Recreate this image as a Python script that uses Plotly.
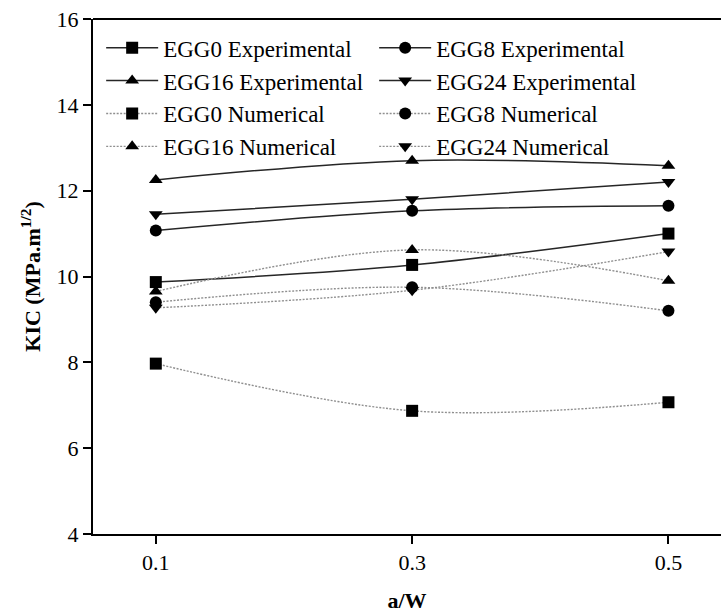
import plotly.graph_objects as go

# crack length ratio
a_w = [0.1, 0.3, 0.5]

# fracture toughness KIC (MPa.m^1/2)
egg0_exp = [9.87, 10.27, 11.0]
egg8_exp = [11.07, 11.53, 11.65]
egg16_exp = [12.25, 12.70, 12.58]
egg24_exp = [11.45, 11.80, 12.20]
egg0_num = [7.97, 6.87, 7.07]
egg8_num = [9.40, 9.75, 9.20]
egg16_num = [9.65, 10.62, 9.90]
egg24_num = [9.27, 9.68, 10.58]

series = [
    ("EGG0 Experimental", egg0_exp, "square", "exp"),
    ("EGG8 Experimental", egg8_exp, "circle", "exp"),
    ("EGG16 Experimental", egg16_exp, "triangle-up", "exp"),
    ("EGG24 Experimental", egg24_exp, "triangle-down", "exp"),
    ("EGG0 Numerical", egg0_num, "square", "num"),
    ("EGG8 Numerical", egg8_num, "circle", "num"),
    ("EGG16 Numerical", egg16_num, "triangle-up", "num"),
    ("EGG24 Numerical", egg24_num, "triangle-down", "num"),
]

fig = go.Figure()
for name, vals, sym, kind in series:
    if kind == "exp":
        line = dict(color="#262626", width=1.5, shape="spline", smoothing=1.0)
    else:
        line = dict(color="#8f8f8f", width=1.4, dash="2px,1.5px", shape="spline", smoothing=1.0)
    fig.add_trace(go.Scatter(
        x=a_w, y=vals, name=name, mode="lines+markers",
        line=line,
        marker=dict(symbol=sym, size=12, color="black", line=dict(width=0)),
    ))

serif = "Liberation Serif"

fig.update_layout(
    width=721, height=614,
    margin=dict(l=93, r=0, t=19, b=80),
    plot_bgcolor="white", paper_bgcolor="white",
    font=dict(family=serif, size=22, color="black"),
    showlegend=True,
    legend=dict(
        orientation="h", x=0.013, y=0.986, xanchor="left", yanchor="top",
        entrywidth=206, entrywidthmode="pixels",
        font=dict(family=serif, size=23, color="black"),
        bgcolor="rgba(0,0,0,0)", tracegroupgap=0,
        itemwidth=52,
    ),
    xaxis=dict(
        range=[0.051, 0.541], tickvals=a_w, ticktext=["0.1", "0.3", "0.5"],
        showgrid=False, zeroline=False, showline=True, linecolor="black", linewidth=2,
        ticks="outside", ticklen=8, tickwidth=2, tickcolor="black",
        title=dict(text="<b>a/W</b>", font=dict(family=serif, size=22), standoff=18),
        tickfont=dict(family=serif, size=22),
    ),
    yaxis=dict(
        range=[4, 16], tickvals=[4, 6, 8, 10, 12, 14, 16],
        showgrid=False, zeroline=False, showline=True, linecolor="black", linewidth=2,
        ticks="outside", ticklen=8, tickwidth=2, tickcolor="black",
        title=dict(text="<b>KIC (MPa.m<sup>1/2</sup>)</b>", font=dict(family=serif, size=22), standoff=10),
        tickfont=dict(family=serif, size=22),
    ),
)

# top frame line of the plotting area
fig.add_shape(type="line", xref="paper", yref="paper", x0=0, x1=1, y0=1, y1=1,
              line=dict(color="black", width=2))

fig.write_html("out.html")
